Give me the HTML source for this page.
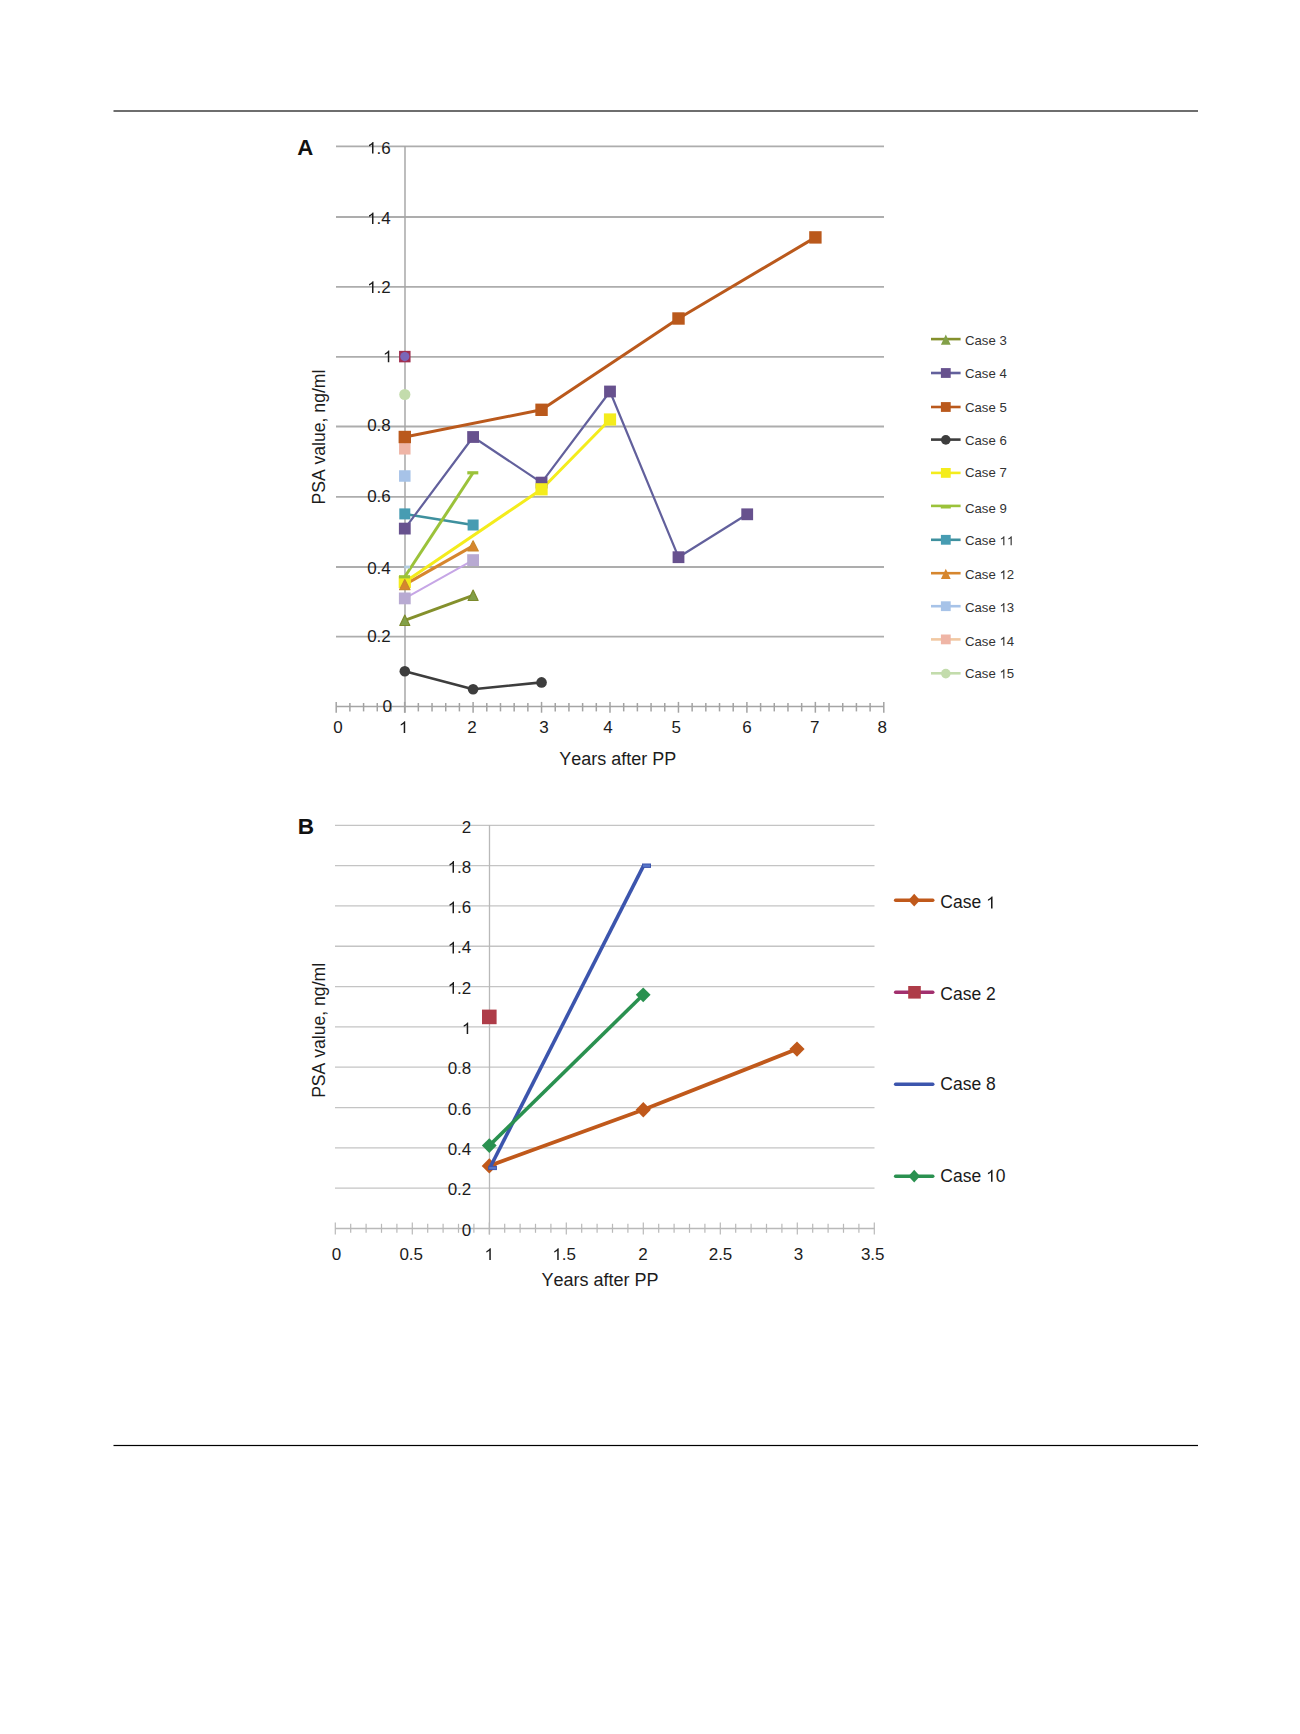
<!DOCTYPE html>
<html><head><meta charset="utf-8"><title>PSA value figure</title>
<style>
html,body{margin:0;padding:0;background:#fff;}
body{width:1300px;height:1734px;overflow:hidden;font-family:"Liberation Sans", sans-serif;}
svg{display:block;font-family:"Liberation Sans", sans-serif;}
text{font-kerning:none;}
</style></head>
<body>
<svg width="1300" height="1734" viewBox="0 0 1300 1734">
<defs><path id="one" d="M763 0L583 0L583 1100Q518 1040 412 980Q307 920 223 889L223 1059Q375 1127 489 1224Q603 1321 650 1409L763 1409Z"/></defs>
<rect width="1300" height="1734" fill="#fff"/>
<rect x="113.5" y="110" width="1084.5" height="2" fill="#6e6e6e"/><rect x="113.5" y="1444.9" width="1084.5" height="1.2" fill="#000"/><line x1="336" y1="636.6" x2="884" y2="636.6" stroke="#adadad" stroke-width="1.8"/><line x1="336" y1="567" x2="884" y2="567" stroke="#adadad" stroke-width="1.8"/><line x1="336" y1="496.8" x2="884" y2="496.8" stroke="#adadad" stroke-width="1.8"/><line x1="336" y1="426.5" x2="884" y2="426.5" stroke="#adadad" stroke-width="1.8"/><line x1="336" y1="356.8" x2="884" y2="356.8" stroke="#adadad" stroke-width="1.8"/><line x1="336" y1="286.9" x2="884" y2="286.9" stroke="#adadad" stroke-width="1.8"/><line x1="336" y1="217" x2="884" y2="217" stroke="#adadad" stroke-width="1.8"/><line x1="336" y1="146.3" x2="884" y2="146.3" stroke="#adadad" stroke-width="1.8"/><line x1="405" y1="146" x2="405" y2="712.7" stroke="#a5a5a5" stroke-width="1.45"/><line x1="336" y1="706.6" x2="884" y2="706.6" stroke="#a5a5a5" stroke-width="1.5"/><line x1="336.2" y1="701.9" x2="336.2" y2="712.7" stroke="#a3a3a3" stroke-width="1.5"/><line x1="349.89" y1="703.0" x2="349.89" y2="711.4" stroke="#a3a3a3" stroke-width="1.5"/><line x1="363.58" y1="703.0" x2="363.58" y2="711.4" stroke="#a3a3a3" stroke-width="1.5"/><line x1="377.27" y1="703.0" x2="377.27" y2="711.4" stroke="#a3a3a3" stroke-width="1.5"/><line x1="390.96" y1="703.0" x2="390.96" y2="711.4" stroke="#a3a3a3" stroke-width="1.5"/><line x1="404.65" y1="701.9" x2="404.65" y2="712.7" stroke="#a3a3a3" stroke-width="1.5"/><line x1="418.34" y1="703.0" x2="418.34" y2="711.4" stroke="#a3a3a3" stroke-width="1.5"/><line x1="432.03" y1="703.0" x2="432.03" y2="711.4" stroke="#a3a3a3" stroke-width="1.5"/><line x1="445.72" y1="703.0" x2="445.72" y2="711.4" stroke="#a3a3a3" stroke-width="1.5"/><line x1="459.41" y1="703.0" x2="459.41" y2="711.4" stroke="#a3a3a3" stroke-width="1.5"/><line x1="473.1" y1="701.9" x2="473.1" y2="712.7" stroke="#a3a3a3" stroke-width="1.5"/><line x1="486.79" y1="703.0" x2="486.79" y2="711.4" stroke="#a3a3a3" stroke-width="1.5"/><line x1="500.48" y1="703.0" x2="500.48" y2="711.4" stroke="#a3a3a3" stroke-width="1.5"/><line x1="514.17" y1="703.0" x2="514.17" y2="711.4" stroke="#a3a3a3" stroke-width="1.5"/><line x1="527.86" y1="703.0" x2="527.86" y2="711.4" stroke="#a3a3a3" stroke-width="1.5"/><line x1="541.55" y1="701.9" x2="541.55" y2="712.7" stroke="#a3a3a3" stroke-width="1.5"/><line x1="555.24" y1="703.0" x2="555.24" y2="711.4" stroke="#a3a3a3" stroke-width="1.5"/><line x1="568.93" y1="703.0" x2="568.93" y2="711.4" stroke="#a3a3a3" stroke-width="1.5"/><line x1="582.62" y1="703.0" x2="582.62" y2="711.4" stroke="#a3a3a3" stroke-width="1.5"/><line x1="596.31" y1="703.0" x2="596.31" y2="711.4" stroke="#a3a3a3" stroke-width="1.5"/><line x1="610" y1="701.9" x2="610" y2="712.7" stroke="#a3a3a3" stroke-width="1.5"/><line x1="623.69" y1="703.0" x2="623.69" y2="711.4" stroke="#a3a3a3" stroke-width="1.5"/><line x1="637.38" y1="703.0" x2="637.38" y2="711.4" stroke="#a3a3a3" stroke-width="1.5"/><line x1="651.07" y1="703.0" x2="651.07" y2="711.4" stroke="#a3a3a3" stroke-width="1.5"/><line x1="664.76" y1="703.0" x2="664.76" y2="711.4" stroke="#a3a3a3" stroke-width="1.5"/><line x1="678.45" y1="701.9" x2="678.45" y2="712.7" stroke="#a3a3a3" stroke-width="1.5"/><line x1="692.14" y1="703.0" x2="692.14" y2="711.4" stroke="#a3a3a3" stroke-width="1.5"/><line x1="705.83" y1="703.0" x2="705.83" y2="711.4" stroke="#a3a3a3" stroke-width="1.5"/><line x1="719.52" y1="703.0" x2="719.52" y2="711.4" stroke="#a3a3a3" stroke-width="1.5"/><line x1="733.21" y1="703.0" x2="733.21" y2="711.4" stroke="#a3a3a3" stroke-width="1.5"/><line x1="746.9" y1="701.9" x2="746.9" y2="712.7" stroke="#a3a3a3" stroke-width="1.5"/><line x1="760.59" y1="703.0" x2="760.59" y2="711.4" stroke="#a3a3a3" stroke-width="1.5"/><line x1="774.28" y1="703.0" x2="774.28" y2="711.4" stroke="#a3a3a3" stroke-width="1.5"/><line x1="787.97" y1="703.0" x2="787.97" y2="711.4" stroke="#a3a3a3" stroke-width="1.5"/><line x1="801.66" y1="703.0" x2="801.66" y2="711.4" stroke="#a3a3a3" stroke-width="1.5"/><line x1="815.35" y1="701.9" x2="815.35" y2="712.7" stroke="#a3a3a3" stroke-width="1.5"/><line x1="829.04" y1="703.0" x2="829.04" y2="711.4" stroke="#a3a3a3" stroke-width="1.5"/><line x1="842.73" y1="703.0" x2="842.73" y2="711.4" stroke="#a3a3a3" stroke-width="1.5"/><line x1="856.42" y1="703.0" x2="856.42" y2="711.4" stroke="#a3a3a3" stroke-width="1.5"/><line x1="870.11" y1="703.0" x2="870.11" y2="711.4" stroke="#a3a3a3" stroke-width="1.5"/><line x1="883.8" y1="701.9" x2="883.8" y2="712.7" stroke="#a3a3a3" stroke-width="1.5"/><text x="382.45" y="711.7" font-size="17" fill="#1c1c1c">0</text><text x="367.17" y="642.3" font-size="17" fill="#1c1c1c">0.2</text><text x="367.17" y="573.6" font-size="17" fill="#1c1c1c">0.4</text><text x="367.17" y="502.2" font-size="17" fill="#1c1c1c">0.6</text><text x="367.17" y="431.2" font-size="17" fill="#1c1c1c">0.8</text><text x="382.95" y="362.2" font-size="17" fill="#1c1c1c"> </text><use href="#one" transform="translate(382.95 362.2) scale(0.008301 -0.008301)" fill="#1c1c1c"/><text x="367.17" y="292.9" font-size="17" fill="#1c1c1c"> .2</text><use href="#one" transform="translate(367.17 292.9) scale(0.008301 -0.008301)" fill="#1c1c1c"/><text x="367.17" y="224.1" font-size="17" fill="#1c1c1c"> .4</text><use href="#one" transform="translate(367.17 224.1) scale(0.008301 -0.008301)" fill="#1c1c1c"/><text x="367.17" y="153.6" font-size="17" fill="#1c1c1c"> .6</text><use href="#one" transform="translate(367.17 153.6) scale(0.008301 -0.008301)" fill="#1c1c1c"/><text x="333.27" y="733" font-size="17" fill="#1c1c1c">0</text><text x="398.87" y="733" font-size="17" fill="#1c1c1c"> </text><use href="#one" transform="translate(398.87 733) scale(0.008301 -0.008301)" fill="#1c1c1c"/><text x="467.27" y="733" font-size="17" fill="#1c1c1c">2</text><text x="539.27" y="733" font-size="17" fill="#1c1c1c">3</text><text x="603.27" y="733" font-size="17" fill="#1c1c1c">4</text><text x="671.47" y="733" font-size="17" fill="#1c1c1c">5</text><text x="742.27" y="733" font-size="17" fill="#1c1c1c">6</text><text x="810.07" y="733" font-size="17" fill="#1c1c1c">7</text><text x="877.47" y="733" font-size="17" fill="#1c1c1c">8</text><text x="617.8" y="765.3" text-anchor="middle" font-size="18" fill="#1c1c1c">Years after PP</text><text transform="translate(325.2 437.1) rotate(-90)" text-anchor="middle" font-size="17.6" fill="#1c1c1c">PSA value, ng/ml</text><text x="297.3" y="154.8" font-size="22.2" font-weight="bold" fill="#111">A</text><polyline points="404.8,671.2 473.1,689.2 541.55,682.4" fill="none" stroke="#3d3d3d" stroke-width="2.6" stroke-linejoin="round"/><polyline points="404.8,620.3 473.1,595.3" fill="none" stroke="#84902c" stroke-width="3" stroke-linejoin="round"/><polyline points="404.8,513.9 473.1,525" fill="none" stroke="#3e909e" stroke-width="2.5" stroke-linejoin="round"/><polyline points="404.8,528.6 473.1,437 541.55,482.6 610,391.5 678.5,557.2 747.2,514.3" fill="none" stroke="#62609c" stroke-width="2.2" stroke-linejoin="round"/><polyline points="404.8,437 541.55,409.8 678.5,318.5 815.4,237.4" fill="none" stroke="#ba591c" stroke-width="3" stroke-linejoin="round"/><polyline points="404.8,598.4 473.1,560.1" fill="none" stroke="#c6a6e6" stroke-width="2" stroke-linejoin="round"/><polyline points="404.8,584.6 473.1,545.9" fill="none" stroke="#d6862e" stroke-width="3" stroke-linejoin="round"/><polyline points="404.8,582 541.55,489.3 610,419.5" fill="none" stroke="#f4ec1c" stroke-width="3" stroke-linejoin="round"/><polyline points="404.8,576.8 473.1,472.8" fill="none" stroke="#9bc23a" stroke-width="3" stroke-linejoin="round"/><circle cx="404.8" cy="671.2" r="5.3" fill="#3d3d3d"/><circle cx="473.1" cy="689.2" r="5.3" fill="#3d3d3d"/><circle cx="541.55" cy="682.4" r="5.3" fill="#3d3d3d"/><rect x="399.05" y="350.85" width="11.5" height="11.5" fill="#a02f4f"/><circle cx="404.8" cy="356.6" r="4.6" fill="#7a66b8"/><circle cx="404.8" cy="394.5" r="5.6" fill="#c3dcac"/><rect x="399.05" y="443.05" width="11.5" height="11.5" fill="#efb5a6"/><rect x="399.05" y="470.25" width="11.5" height="11.5" fill="#a7c3e8"/><rect x="404.2" y="565.6" width="5.8" height="2.8" fill="#b2cee2"/><rect x="398.9" y="522.7" width="11.8" height="11.8" fill="#67518e"/><rect x="467.2" y="431.1" width="11.8" height="11.8" fill="#67518e"/><rect x="535.65" y="476.7" width="11.8" height="11.8" fill="#67518e"/><rect x="604.1" y="385.6" width="11.8" height="11.8" fill="#67518e"/><rect x="672.6" y="551.3" width="11.8" height="11.8" fill="#67518e"/><rect x="741.3" y="508.4" width="11.8" height="11.8" fill="#67518e"/><rect x="398.6" y="430.8" width="12.4" height="12.4" fill="#ba591c"/><rect x="535.35" y="403.6" width="12.4" height="12.4" fill="#ba591c"/><rect x="672.3" y="312.3" width="12.4" height="12.4" fill="#ba591c"/><rect x="809.2" y="231.2" width="12.4" height="12.4" fill="#ba591c"/><rect x="399.3" y="508.4" width="11" height="11" fill="#479cb2"/><rect x="467.6" y="519.5" width="11" height="11" fill="#479cb2"/><rect x="398.9" y="592.5" width="11.8" height="11.8" fill="#b8aad2"/><rect x="467.2" y="554.2" width="11.8" height="11.8" fill="#b8aad2"/><path d="M404.8 615.1L409.8 625.5L399.8 625.5Z" fill="#82a048" stroke="#7c8a2c" stroke-width="1.2" stroke-linejoin="round"/><path d="M473.1 590.1L478.1 600.5L468.1 600.5Z" fill="#82a048" stroke="#7c8a2c" stroke-width="1.2" stroke-linejoin="round"/><rect x="398.7" y="575.9" width="12.2" height="12.2" fill="#f4ec1c"/><rect x="535.45" y="483.2" width="12.2" height="12.2" fill="#f4ec1c"/><rect x="603.9" y="413.4" width="12.2" height="12.2" fill="#f4ec1c"/><path d="M404.8 579.5L410 589.7L399.6 589.7Z" fill="#d6862e" stroke="#c9882c" stroke-width="1.2" stroke-linejoin="round"/><path d="M473.1 540.8L478.3 551L467.9 551Z" fill="#d6862e" stroke="#c9882c" stroke-width="1.2" stroke-linejoin="round"/><rect x="399" y="575.2" width="11" height="3.2" fill="#9bc23a"/><rect x="467.3" y="471.2" width="11" height="3.2" fill="#9bc23a"/><line x1="931" y1="339.1" x2="960.6" y2="339.1" stroke="#84902c" stroke-width="2.6"/><path d="M945.8 334.6L950.7 344.8L940.9 344.8Z" fill="#82a048"/><text x="965" y="344.5" font-size="13.2" fill="#333">Case 3</text><line x1="931" y1="373" x2="960.6" y2="373" stroke="#62609c" stroke-width="2.6"/><rect x="940.9" y="368.1" width="9.8" height="9.8" fill="#67518e"/><text x="965" y="377.75" font-size="13.2" fill="#333">Case 4</text><line x1="931" y1="407" x2="960.6" y2="407" stroke="#ba591c" stroke-width="2.6"/><rect x="940.9" y="402.1" width="9.8" height="9.8" fill="#ba591c"/><text x="965" y="411.65" font-size="13.2" fill="#333">Case 5</text><line x1="931" y1="439.6" x2="960.6" y2="439.6" stroke="#3d3d3d" stroke-width="2.6"/><circle cx="945.8" cy="439.9" r="4.8" fill="#3d3d3d"/><text x="965" y="444.85" font-size="13.2" fill="#333">Case 6</text><line x1="931" y1="472.9" x2="960.6" y2="472.9" stroke="#f4ec1c" stroke-width="2.6"/><rect x="940.9" y="468" width="9.8" height="9.8" fill="#f4ec1c"/><text x="965" y="477.45" font-size="13.2" fill="#333">Case 7</text><line x1="931" y1="505.9" x2="960.6" y2="505.9" stroke="#9bc23a" stroke-width="2.6"/><rect x="940.8" y="505.9" width="10" height="2.6" fill="#9bc23a"/><text x="965" y="513.05" font-size="13.2" fill="#333">Case 9</text><line x1="931" y1="539.8" x2="960.6" y2="539.8" stroke="#3e909e" stroke-width="2.6"/><rect x="940.9" y="534.9" width="9.8" height="9.8" fill="#479cb2"/><text x="965" y="545.35" font-size="13.2" fill="#333">Case   </text><use href="#one" transform="translate(999.48 545.35) scale(0.006445 -0.006445)" fill="#333"/><use href="#one" transform="translate(1006.82 545.35) scale(0.006445 -0.006445)" fill="#333"/><line x1="931" y1="573.2" x2="960.6" y2="573.2" stroke="#d6862e" stroke-width="2.6"/><path d="M945.8 568.7L950.7 578.9L940.9 578.9Z" fill="#d6862e"/><text x="965" y="579.25" font-size="13.2" fill="#333">Case  2</text><use href="#one" transform="translate(999.48 579.25) scale(0.006445 -0.006445)" fill="#333"/><line x1="931" y1="606.2" x2="960.6" y2="606.2" stroke="#a7c3e8" stroke-width="2.6"/><rect x="940.9" y="601.3" width="9.8" height="9.8" fill="#a7c3e8"/><text x="965" y="612.15" font-size="13.2" fill="#333">Case  3</text><use href="#one" transform="translate(999.48 612.15) scale(0.006445 -0.006445)" fill="#333"/><line x1="931" y1="639.4" x2="960.6" y2="639.4" stroke="#f1c8a2" stroke-width="2.6"/><rect x="940.9" y="634.5" width="9.8" height="9.8" fill="#efb5a6"/><text x="965" y="645.75" font-size="13.2" fill="#333">Case  4</text><use href="#one" transform="translate(999.48 645.75) scale(0.006445 -0.006445)" fill="#333"/><line x1="931" y1="673.3" x2="960.6" y2="673.3" stroke="#c3dcac" stroke-width="2.6"/><circle cx="945.8" cy="673.6" r="4.8" fill="#c3dcac"/><text x="965" y="678.45" font-size="13.2" fill="#333">Case  5</text><use href="#one" transform="translate(999.48 678.45) scale(0.006445 -0.006445)" fill="#333"/><line x1="335" y1="1188.18" x2="874.5" y2="1188.18" stroke="#c4c4c4" stroke-width="1.3"/><line x1="335" y1="1147.86" x2="874.5" y2="1147.86" stroke="#c4c4c4" stroke-width="1.3"/><line x1="335" y1="1107.54" x2="874.5" y2="1107.54" stroke="#c4c4c4" stroke-width="1.3"/><line x1="335" y1="1067.22" x2="874.5" y2="1067.22" stroke="#c4c4c4" stroke-width="1.3"/><line x1="335" y1="1026.9" x2="874.5" y2="1026.9" stroke="#c4c4c4" stroke-width="1.3"/><line x1="335" y1="986.58" x2="874.5" y2="986.58" stroke="#c4c4c4" stroke-width="1.3"/><line x1="335" y1="946.26" x2="874.5" y2="946.26" stroke="#c4c4c4" stroke-width="1.3"/><line x1="335" y1="905.94" x2="874.5" y2="905.94" stroke="#c4c4c4" stroke-width="1.3"/><line x1="335" y1="865.62" x2="874.5" y2="865.62" stroke="#c4c4c4" stroke-width="1.3"/><line x1="335" y1="825.3" x2="874.5" y2="825.3" stroke="#c4c4c4" stroke-width="1.3"/><line x1="489.5" y1="825" x2="489.5" y2="1234.6" stroke="#b9b9b9" stroke-width="1.3"/><line x1="335" y1="1228.5" x2="874.5" y2="1228.5" stroke="#b9b9b9" stroke-width="1.3"/><line x1="335.3" y1="1222.5" x2="335.3" y2="1234.6" stroke="#b9b9b9" stroke-width="1.2"/><line x1="350.7" y1="1223.8" x2="350.7" y2="1232.8" stroke="#b9b9b9" stroke-width="1.2"/><line x1="366.1" y1="1223.8" x2="366.1" y2="1232.8" stroke="#b9b9b9" stroke-width="1.2"/><line x1="381.5" y1="1223.8" x2="381.5" y2="1232.8" stroke="#b9b9b9" stroke-width="1.2"/><line x1="396.9" y1="1223.8" x2="396.9" y2="1232.8" stroke="#b9b9b9" stroke-width="1.2"/><line x1="412.3" y1="1222.5" x2="412.3" y2="1234.6" stroke="#b9b9b9" stroke-width="1.2"/><line x1="427.7" y1="1223.8" x2="427.7" y2="1232.8" stroke="#b9b9b9" stroke-width="1.2"/><line x1="443.1" y1="1223.8" x2="443.1" y2="1232.8" stroke="#b9b9b9" stroke-width="1.2"/><line x1="458.5" y1="1223.8" x2="458.5" y2="1232.8" stroke="#b9b9b9" stroke-width="1.2"/><line x1="473.9" y1="1223.8" x2="473.9" y2="1232.8" stroke="#b9b9b9" stroke-width="1.2"/><line x1="489.3" y1="1222.5" x2="489.3" y2="1234.6" stroke="#b9b9b9" stroke-width="1.2"/><line x1="504.7" y1="1223.8" x2="504.7" y2="1232.8" stroke="#b9b9b9" stroke-width="1.2"/><line x1="520.1" y1="1223.8" x2="520.1" y2="1232.8" stroke="#b9b9b9" stroke-width="1.2"/><line x1="535.5" y1="1223.8" x2="535.5" y2="1232.8" stroke="#b9b9b9" stroke-width="1.2"/><line x1="550.9" y1="1223.8" x2="550.9" y2="1232.8" stroke="#b9b9b9" stroke-width="1.2"/><line x1="566.3" y1="1222.5" x2="566.3" y2="1234.6" stroke="#b9b9b9" stroke-width="1.2"/><line x1="581.7" y1="1223.8" x2="581.7" y2="1232.8" stroke="#b9b9b9" stroke-width="1.2"/><line x1="597.1" y1="1223.8" x2="597.1" y2="1232.8" stroke="#b9b9b9" stroke-width="1.2"/><line x1="612.5" y1="1223.8" x2="612.5" y2="1232.8" stroke="#b9b9b9" stroke-width="1.2"/><line x1="627.9" y1="1223.8" x2="627.9" y2="1232.8" stroke="#b9b9b9" stroke-width="1.2"/><line x1="643.3" y1="1222.5" x2="643.3" y2="1234.6" stroke="#b9b9b9" stroke-width="1.2"/><line x1="658.7" y1="1223.8" x2="658.7" y2="1232.8" stroke="#b9b9b9" stroke-width="1.2"/><line x1="674.1" y1="1223.8" x2="674.1" y2="1232.8" stroke="#b9b9b9" stroke-width="1.2"/><line x1="689.5" y1="1223.8" x2="689.5" y2="1232.8" stroke="#b9b9b9" stroke-width="1.2"/><line x1="704.9" y1="1223.8" x2="704.9" y2="1232.8" stroke="#b9b9b9" stroke-width="1.2"/><line x1="720.3" y1="1222.5" x2="720.3" y2="1234.6" stroke="#b9b9b9" stroke-width="1.2"/><line x1="735.7" y1="1223.8" x2="735.7" y2="1232.8" stroke="#b9b9b9" stroke-width="1.2"/><line x1="751.1" y1="1223.8" x2="751.1" y2="1232.8" stroke="#b9b9b9" stroke-width="1.2"/><line x1="766.5" y1="1223.8" x2="766.5" y2="1232.8" stroke="#b9b9b9" stroke-width="1.2"/><line x1="781.9" y1="1223.8" x2="781.9" y2="1232.8" stroke="#b9b9b9" stroke-width="1.2"/><line x1="797.3" y1="1222.5" x2="797.3" y2="1234.6" stroke="#b9b9b9" stroke-width="1.2"/><line x1="812.7" y1="1223.8" x2="812.7" y2="1232.8" stroke="#b9b9b9" stroke-width="1.2"/><line x1="828.1" y1="1223.8" x2="828.1" y2="1232.8" stroke="#b9b9b9" stroke-width="1.2"/><line x1="843.5" y1="1223.8" x2="843.5" y2="1232.8" stroke="#b9b9b9" stroke-width="1.2"/><line x1="858.9" y1="1223.8" x2="858.9" y2="1232.8" stroke="#b9b9b9" stroke-width="1.2"/><line x1="874.3" y1="1222.5" x2="874.3" y2="1234.6" stroke="#b9b9b9" stroke-width="1.2"/><text x="461.85" y="1235.7" font-size="17" fill="#1c1c1c">0</text><text x="447.67" y="1195.38" font-size="17" fill="#1c1c1c">0.2</text><text x="447.67" y="1155.06" font-size="17" fill="#1c1c1c">0.4</text><text x="447.67" y="1114.74" font-size="17" fill="#1c1c1c">0.6</text><text x="447.67" y="1074.42" font-size="17" fill="#1c1c1c">0.8</text><text x="461.85" y="1034.1" font-size="17" fill="#1c1c1c"> </text><use href="#one" transform="translate(461.85 1034.1) scale(0.008301 -0.008301)" fill="#1c1c1c"/><text x="447.67" y="993.78" font-size="17" fill="#1c1c1c"> .2</text><use href="#one" transform="translate(447.67 993.78) scale(0.008301 -0.008301)" fill="#1c1c1c"/><text x="447.67" y="953.46" font-size="17" fill="#1c1c1c"> .4</text><use href="#one" transform="translate(447.67 953.46) scale(0.008301 -0.008301)" fill="#1c1c1c"/><text x="447.67" y="913.14" font-size="17" fill="#1c1c1c"> .6</text><use href="#one" transform="translate(447.67 913.14) scale(0.008301 -0.008301)" fill="#1c1c1c"/><text x="447.67" y="872.82" font-size="17" fill="#1c1c1c"> .8</text><use href="#one" transform="translate(447.67 872.82) scale(0.008301 -0.008301)" fill="#1c1c1c"/><text x="461.85" y="832.5" font-size="17" fill="#1c1c1c">2</text><text x="331.67" y="1260" font-size="17" fill="#1c1c1c">0</text><text x="399.38" y="1260" font-size="17" fill="#1c1c1c">0.5</text><text x="484.47" y="1260" font-size="17" fill="#1c1c1c"> </text><use href="#one" transform="translate(484.47 1260) scale(0.008301 -0.008301)" fill="#1c1c1c"/><text x="552.38" y="1260" font-size="17" fill="#1c1c1c"> .5</text><use href="#one" transform="translate(552.38 1260) scale(0.008301 -0.008301)" fill="#1c1c1c"/><text x="638.27" y="1260" font-size="17" fill="#1c1c1c">2</text><text x="708.68" y="1260" font-size="17" fill="#1c1c1c">2.5</text><text x="793.87" y="1260" font-size="17" fill="#1c1c1c">3</text><text x="860.88" y="1260" font-size="17" fill="#1c1c1c">3.5</text><text x="600" y="1285.8" text-anchor="middle" font-size="18" fill="#1c1c1c">Years after PP</text><text transform="translate(325.4 1030.4) rotate(-90)" text-anchor="middle" font-size="17.6" fill="#1c1c1c">PSA value, ng/ml</text><text x="297.8" y="833.9" font-size="22.6" font-weight="bold" fill="#111">B</text><polyline points="489.3,1165.9 643.3,1109.7 797,1049.1" fill="none" stroke="#c0591b" stroke-width="3.8" stroke-linejoin="round"/><rect x="482" y="1009.6" width="14.6" height="14.6" fill="#ae3c48"/><path d="M489.3 1158.2L496.9 1165.9L489.3 1173.6L481.7 1165.9Z" fill="#c0591b"/><path d="M643.3 1102L650.9 1109.7L643.3 1117.4L635.7 1109.7Z" fill="#c0591b"/><path d="M797 1041.4L804.6 1049.1L797 1056.8L789.4 1049.1Z" fill="#c0591b"/><polyline points="490.2,1167.2 643.6,865.6" fill="none" stroke="#3c55ad" stroke-width="3.6" stroke-linejoin="round"/><rect x="488.7" y="1166.4" width="7.7" height="3.2" fill="#5876c8" stroke="#3c55ad" stroke-width="1"/><rect x="642.5" y="864" width="8" height="3.4" fill="#5876c8" stroke="#3c55ad" stroke-width="1"/><polyline points="489.3,1145.6 643.2,994.8" fill="none" stroke="#2a9150" stroke-width="3.6" stroke-linejoin="round"/><path d="M489.3 1138.2L496.7 1145.6L489.3 1153L481.9 1145.6Z" fill="#2a9150"/><path d="M643.2 987.4L650.6 994.8L643.2 1002.2L635.8 994.8Z" fill="#2a9150"/><line x1="895.6" y1="900.2" x2="932.8" y2="900.2" stroke="#c0591b" stroke-width="3.4" stroke-linecap="round"/><path d="M914.2 893.8L920 900.2L914.2 906.6L908.4 900.2Z" fill="#c0591b"/><text x="940.3" y="908.45" font-size="17.5" fill="#1a1a1a">Case  </text><use href="#one" transform="translate(986.02 908.45) scale(0.008545 -0.008545)" fill="#1a1a1a"/><line x1="895.6" y1="992.3" x2="932.8" y2="992.3" stroke="#a2306e" stroke-width="3.4" stroke-linecap="round"/><rect x="908.2" y="986" width="12.6" height="12.6" fill="#ae3c48"/><text x="940.3" y="1000.35" font-size="17.5" fill="#1a1a1a">Case 2</text><line x1="895.6" y1="1084.3" x2="932.8" y2="1084.3" stroke="#3c55ad" stroke-width="3.4" stroke-linecap="round"/><text x="940.3" y="1089.55" font-size="17.5" fill="#1a1a1a">Case 8</text><line x1="895.6" y1="1176.2" x2="932.8" y2="1176.2" stroke="#2a9150" stroke-width="3.4" stroke-linecap="round"/><path d="M914.2 1169.8L920 1176.2L914.2 1182.6L908.4 1176.2Z" fill="#2a9150"/><text x="940.3" y="1181.85" font-size="17.5" fill="#1a1a1a">Case  0</text><use href="#one" transform="translate(986.02 1181.85) scale(0.008545 -0.008545)" fill="#1a1a1a"/>
</svg>
</body></html>
